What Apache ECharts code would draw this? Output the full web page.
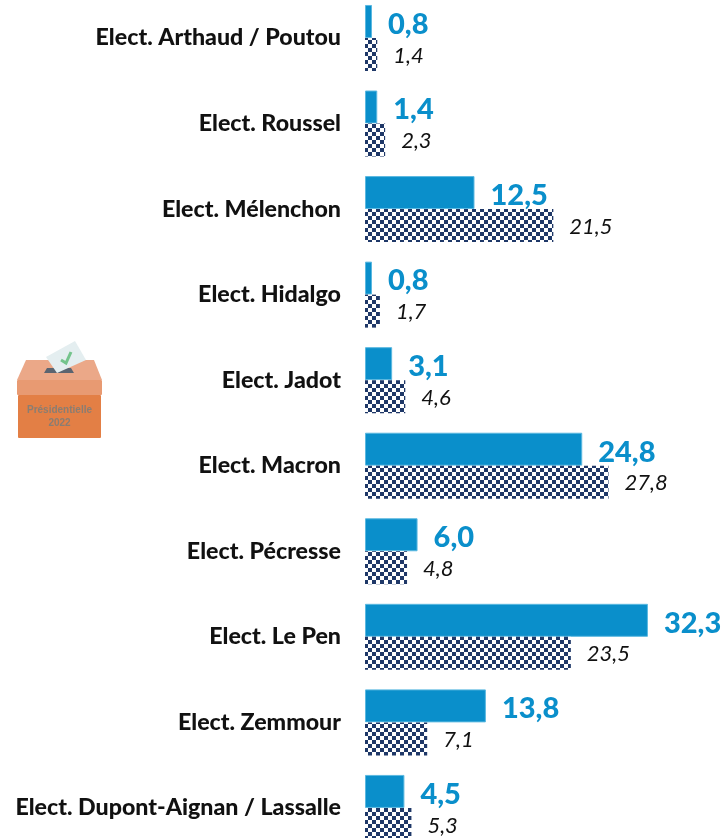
<!DOCTYPE html>
<html><head><meta charset="utf-8">
<style>html,body{margin:0;padding:0;background:#fff}#c{width:723px;height:838px}</style>
<script src="https://cdn.jsdelivr.net/npm/echarts@6/dist/echarts.min.js"></script>
</head><body><div id="c"></div>
<script>
const categories = ["Elect. Arthaud / Poutou","Elect. Roussel","Elect. Mélenchon","Elect. Hidalgo","Elect. Jadot","Elect. Macron","Elect. Pécresse","Elect. Le Pen","Elect. Zemmour","Elect. Dupont-Aignan / Lassalle"];
const votes2022 = [0.8,1.4,12.5,0.8,3.1,24.8,6.0,32.3,13.8,4.5];
const votes2017 = [1.4,2.3,21.5,1.7,4.6,27.8,4.8,23.5,7.1,5.3];
const fmt = p => p.value.toFixed(1).replace('.', ',');
const pat = document.createElement('canvas');
pat.width = 8; pat.height = 8;
const g = pat.getContext('2d');
g.fillStyle = '#fff'; g.fillRect(0,0,8,8);
g.fillStyle = '#1f3868'; g.fillRect(0,0,4,4); g.fillRect(4,4,4,4);
const chart = echarts.init(document.getElementById('c'), null, {renderer:'canvas'});
const F = 'Lato, Carlito, sans-serif';
chart.setOption({
  animation:false,
  backgroundColor:'#fff',
  grid:{left:365, top:-4.8, width:358, height:855.5, containLabel:false, outerBoundsMode:'none'},
  xAxis:{type:'value', min:0, max:40.87, show:false},
  yAxis:{type:'category', inverse:true, data:categories,
    axisLine:{show:false}, axisTick:{show:false},
    axisLabel:{fontFamily:F, fontWeight:900, fontSize:23.2, color:'#111', margin:24, interval:0}},
  series:[
    {type:'bar', name:'2022', data:votes2022, barWidth:33, barGap:'0%',
     itemStyle:{color:'#0a8fcb', borderColor:'#5bb8e0', borderWidth:1},
     label:{show:true, position:'right', distance:16, offset:[0,3], formatter:fmt, fontFamily:F, fontWeight:900, fontSize:29, color:'#0a8fcb'}},
    {type:'bar', name:'2017', data:votes2017, barWidth:33,
     itemStyle:{color:{image:pat, repeat:'repeat'}},
     label:{show:true, position:'right', distance:16, offset:[0,1], formatter:fmt, fontFamily:F, fontStyle:'italic', fontSize:22, color:'#111'}}
  ],
  graphic:[{type:'group', left:17, top:341, children:[
    {type:'polygon', shape:{points:[[9,19],[77,19],[85,39],[0,39]]}, style:{fill:'#eba888'}},
    {type:'polygon', shape:{points:[[30,27],[54,27],[57,32],[27,32]]}, style:{fill:'#5a6470'}},
    {type:'polygon', shape:{points:[[29,16],[58,0],[69,19],[40,32]]}, style:{fill:'#e4eef0'}},
    {type:'polyline', shape:{points:[[44,19],[49,22],[54,11]]}, style:{stroke:'#74c48c', lineWidth:3, fill:null}},
    {type:'rect', shape:{x:0,y:39,width:85,height:15,r:1}, style:{fill:'#e89a72'}},
    {type:'rect', shape:{x:1,y:54,width:83,height:43,r:1}, style:{fill:'#e37f45'}},
    {type:'text', x:42.5, y:69, style:{text:'Présidentielle', fontFamily:'Liberation Sans, sans-serif', fontWeight:'bold', fontSize:10, fill:'#8a7d72', align:'center', verticalAlign:'middle'}},
    {type:'text', x:42.5, y:82, style:{text:'2022', fontFamily:'Liberation Sans, sans-serif', fontWeight:'bold', fontSize:10, fill:'#8a7d72', align:'center', verticalAlign:'middle'}}
  ]}]
});
</script></body></html>
